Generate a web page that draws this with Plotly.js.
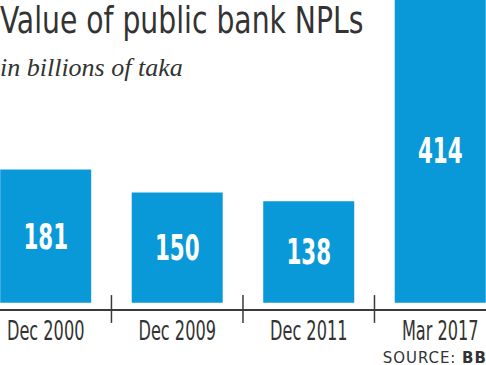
<!DOCTYPE html>
<html>
<head>
<meta charset="utf-8">
<script src="https://cdn.plot.ly/plotly-3.0.1.min.js"></script>
<style>
html,body{margin:0;padding:0;background:#fff;}
#chart{width:486px;height:365px;}
</style>
</head>
<body>
<div id="chart"></div>
<script>
const categories = ["Dec 2000", "Dec 2009", "Dec 2011", "Mar 2017"];
const values = [181, 150, 138, 414];
const titleText = "Value of public bank NPLs";
const subtitleText = "in billions of taka";
const sourceText = "SOURCE: <b>BB</b>";

const xIdx = categories.map((c, i) => i);
const COND = "DejaVu Sans Condensed, DejaVu Sans, sans-serif";

const trace = {
  type: "bar",
  x: xIdx,
  y: values,
  width: 0.692,
  marker: {color: "#0a99d8", line: {width: 0}},
  text: values.map(String),
  textposition: "inside",
  insidetextanchor: "middle",
  textangle: 0,
  constraintext: "none",
  textfont: {family: COND, size: 36, color: "#ffffff", weight: "bold"},
  hoverinfo: "none"
};

const sepShapes = categories.slice(0, -1).map((c, i) => ({
  type: "line", xref: "x", yref: "paper",
  x0: i + 0.5, x1: i + 0.5, y0: -0.045, y1: 0.045,
  line: {color: "#3a3a3a", width: 1.5}
}));

const layout = {
  width: 486, height: 365,
  margin: {l: 0, r: 0, t: 0, b: 56, pad: 0},
  paper_bgcolor: "#ffffff", plot_bgcolor: "#ffffff",
  showlegend: false,
  xaxis: {
    range: [-0.3475, 3.348],
    tickvals: xIdx, ticktext: categories,
    ticks: "", showgrid: false, zeroline: false,
    showline: true, linecolor: "#3a3a3a", linewidth: 1.5,
    tickfont: {family: COND, size: 26, color: "#333333"},
    ticklabelstandoff: -2,
    ticklabeloverflow: "allow",
    fixedrange: true
  },
  yaxis: {
    range: [-8.57, 411.6],
    visible: false, showgrid: false, zeroline: false, fixedrange: true
  },
  shapes: sepShapes,
  annotations: [
    {text: titleText, xref: "paper", yref: "paper", x: 0, y: 1, xanchor: "left", yanchor: "top", align: "left",
     yshift: 4, xshift: -2, showarrow: false,
     font: {family: COND, size: 38, color: "#333333"}},
    {text: "<i>" + subtitleText + "</i>", xref: "paper", yref: "paper", x: 0, y: 1, xanchor: "left", yanchor: "top", align: "left",
     yshift: -51, xshift: -2, showarrow: false,
     font: {family: "Liberation Serif, serif", size: 26, color: "#333333"}},
    {text: sourceText, xref: "paper", yref: "paper", x: 1, y: 0, xanchor: "right", yanchor: "top",
     yshift: -38, xshift: -2, showarrow: false,
     font: {family: "DejaVu Sans, sans-serif", size: 15, color: "#333333"}}
  ]
};

function squish(gd, selector, factor, mode) {
  gd.querySelectorAll(selector).forEach(t => {
    const L = t.getComputedTextLength();
    t.setAttribute("lengthAdjust", mode || "spacingAndGlyphs");
    t.setAttribute("textLength", (L * factor).toFixed(2));
  });
}

Plotly.newPlot("chart", [trace], layout, {displayModeBar: false, staticPlot: true}).then(gd => {
  squish(gd, ".xtick text", 0.69);
  squish(gd, "text.bartext", 0.66);
  squish(gd, '.annotation[data-index="0"] text.annotation-text', 0.826);
  squish(gd, '.annotation[data-index="2"] text.annotation-text', 1.09, "spacing");
});
</script>
</body>
</html>
